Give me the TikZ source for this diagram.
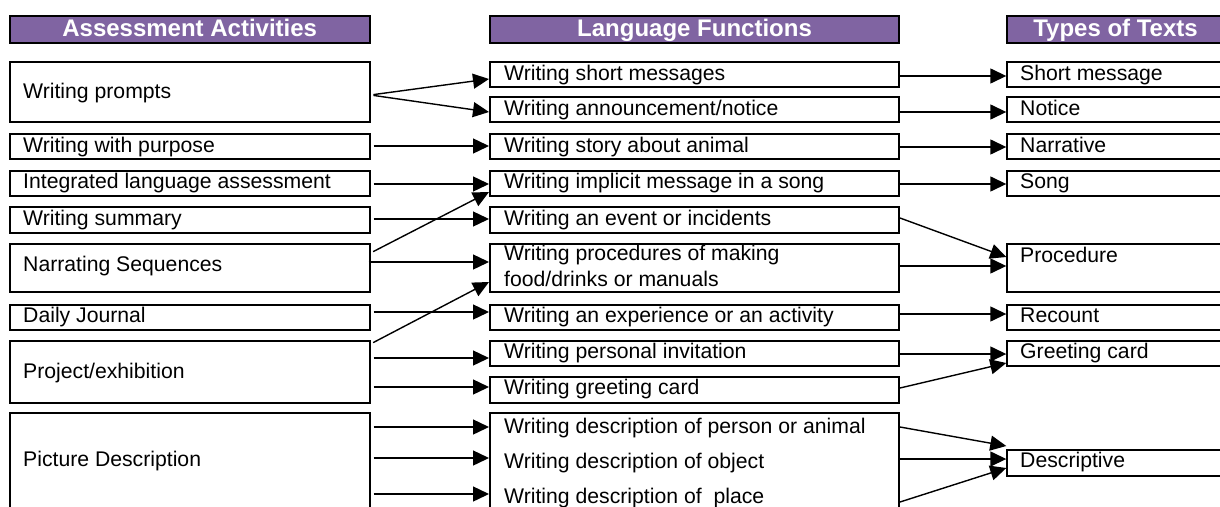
\documentclass[tikz,border=0pt]{standalone}
\usepackage{fontspec}
\setmainfont{Liberation Sans}
\usetikzlibrary{arrows.meta}
\definecolor{hdrpurple}{RGB}{128,100,162}
\newcommand\bodyfs{\fontsize{21.2pt}{25pt}\selectfont}
\newcommand\hdrfs{\fontsize{24pt}{28pt}\selectfont\bfseries}
\begin{document}
\begin{tikzpicture}[x=1pt,y=-1pt,
  box/.style={draw=black, line width=2pt, rectangle, inner sep=0pt, anchor=north west},
  lcol/.style={box, minimum width=359.5pt},
  mcol/.style={box, minimum width=409pt},
  rcol/.style={box, minimum width=216.4pt},
  hdr/.style={fill=hdrpurple, text=white, font=\hdrfs, text height=17pt, text depth=3pt, minimum height=27.8pt},
  txt/.style={anchor=base west, inner sep=0pt, font=\bodyfs},
  arr/.style={line width=1.4pt, -{Triangle[length=16pt,width=15pt]}},
  larr/.style={arr, shorten <=3pt}
]
\useasboundingbox (0,0) rectangle (1220,506);
\clip (0,0) rectangle (1220,506);

% headers
\node[lcol, hdr] (H1) at (9,14.5) {Assessment Activities};
\node[mcol, hdr] (H2) at (489,14.5) {Language Functions};
\node[rcol, hdr] (H3) at (1006.3,14.5) {Types of Texts};

% left column
\node[lcol, minimum height=60.3pt] (L1) at (9,60.7) {};
\node[lcol, minimum height=25pt] (L2) at (9,133) {};
\node[lcol, minimum height=25pt] (L3) at (9,169.5) {};
\node[lcol, minimum height=25.5pt] (L4) at (9,206) {};
\node[lcol, minimum height=47.8pt] (L5) at (9,242.7) {};
\node[lcol, minimum height=25pt] (L6) at (9,303.5) {};
\node[lcol, minimum height=62pt] (L7) at (9,339.5) {};
\node[lcol, minimum height=110pt] (L8) at (9,412) {};

\node[txt] (L1t) at (23,98) {Writing prompts};
\node[txt] (L2t) at (23,152) {Writing with purpose};
\node[txt] (L3t) at (23,188.5) {Integrated language assessment};
\node[txt] (L4t) at (23,225) {Writing summary};
\node[txt] (L5t) at (23,271) {Narrating Sequences};
\node[txt] (L6t) at (23,322.5) {Daily Journal};
\node[txt] (L7t) at (23,378) {Project/exhibition};
\node[txt] (L8t) at (23,466) {Picture Description};

% middle column
\node[mcol, minimum height=25pt] (M1) at (489,60.7) {};
\node[mcol, minimum height=25pt] (M2) at (489,96) {};
\node[mcol, minimum height=25pt] (M3) at (489,133) {};
\node[mcol, minimum height=25pt] (M4) at (489,169.5) {};
\node[mcol, minimum height=25.5pt] (M5) at (489,206) {};
\node[mcol, minimum height=47.8pt] (M6) at (489,242.7) {};
\node[mcol, minimum height=25pt] (M7) at (489,303.5) {};
\node[mcol, minimum height=25pt] (M8) at (489,339.5) {};
\node[mcol, minimum height=26pt] (M9) at (489,375.5) {};
\node[mcol, minimum height=110pt] (M10) at (489,412) {};

\node[txt] (M1t) at (504,80) {Writing short messages};
\node[txt] (M2t) at (504,115) {Writing announcement/notice};
\node[txt] (M3t) at (504,152) {Writing story about animal};
\node[txt] (M4t) at (504,188.5) {Writing implicit message in a song};
\node[txt] (M5t) at (504,225) {Writing an event or incidents};
\node[txt] (M6a) at (504,260.5) {Writing procedures of making};
\node[txt] (M6b) at (504,286) {food/drinks or manuals};
\node[txt] (M7t) at (504,322.5) {Writing an experience or an activity};
\node[txt] (M8t) at (504,358.5) {Writing personal invitation};
\node[txt] (M9t) at (504,394.5) {Writing greeting card};
\node[txt] (M10a) at (504,433) {Writing description of person or animal};
\node[txt] (M10b) at (504,468) {Writing description of object};
\node[txt] (M10c) at (504,503) {Writing description of\ \ place};

% right column
\node[rcol, minimum height=25pt] (R1) at (1006.3,60.7) {};
\node[rcol, minimum height=25pt] (R2) at (1006.3,96) {};
\node[rcol, minimum height=25pt] (R3) at (1006.3,133) {};
\node[rcol, minimum height=25pt] (R4) at (1006.3,169.5) {};
\node[rcol, minimum height=47.8pt] (R5) at (1006.3,242.7) {};
\node[rcol, minimum height=25pt] (R6) at (1006.3,303.5) {};
\node[rcol, minimum height=25pt] (R7) at (1006.3,339.5) {};
\node[rcol, minimum height=26pt] (R8) at (1006.3,448.5) {};

\node[txt] (R1t) at (1020,80) {Short message};
\node[txt] (R2t) at (1020,115) {Notice};
\node[txt] (R3t) at (1020,152) {Narrative};
\node[txt] (R4t) at (1020,188.5) {Song};
\node[txt] (R5t) at (1020,262) {Procedure};
\node[txt] (R6t) at (1020,322.5) {Recount};
\node[txt] (R7t) at (1020,358.5) {Greeting card};
\node[txt] (R8t) at (1020,467.5) {Descriptive};

% left -> middle connectors
\draw[larr] (L1.east |- 0,95) -- (M1.west |- 0,79);
\draw[larr] (L1.east |- 0,95) -- (M2.west |- 0,112);
\draw[larr] (L2.east |- 0,146) -- (M3.west |- 0,146);
\draw[larr] (L3.east |- 0,184) -- (M4.west |- 0,184);
\draw[larr] (L4.east |- 0,219) -- (M5.west |- 0,219);
\draw[larr] (L5.east |- 0,253) -- (M4.west |- 0,192);
\draw[arr, shorten <=-2pt] (L5.east |- 0,262) -- (M6.west |- 0,262);
\draw[larr] (L6.east |- 0,312) -- (M7.west |- 0,312);
\draw[larr] (L7.east |- 0,344) -- (M6.west |- 0,282);
\draw[larr] (L7.east |- 0,358) -- (M8.west |- 0,358);
\draw[larr] (L7.east |- 0,387) -- (M9.west |- 0,387);
\draw[larr] (L8.east |- 0,427) -- (M10.west |- 0,427);
\draw[larr] (L8.east |- 0,458) -- (M10.west |- 0,458);
\draw[larr] (L8.east |- 0,494) -- (M10.west |- 0,494);

% middle -> right connectors
\draw[arr] (M1.east |- 0,76) -- (R1.west |- 0,76);
\draw[arr] (M2.east |- 0,112) -- (R2.west |- 0,112);
\draw[arr] (M3.east |- 0,147) -- (R3.west |- 0,147);
\draw[arr] (M4.east |- 0,184) -- (R4.west |- 0,184);
\draw[arr] (M5.east |- 0,218) -- (R5.west |- 0,257);
\draw[arr] (M6.east |- 0,266) -- (R5.west |- 0,266);
\draw[arr] (M7.east |- 0,314) -- (R6.west |- 0,314);
\draw[arr] (M8.east |- 0,354) -- (R7.west |- 0,354);
\draw[arr] (M9.east |- 0,388) -- (R7.west |- 0,363);
\draw[arr] (M10.east |- 0,427) -- (R8.west |- 0,446);
\draw[arr] (M10.east |- 0,459) -- (R8.west |- 0,459);
\draw[arr] (M10.east |- 0,502) -- (R8.west |- 0,468);
\end{tikzpicture}
\end{document}
